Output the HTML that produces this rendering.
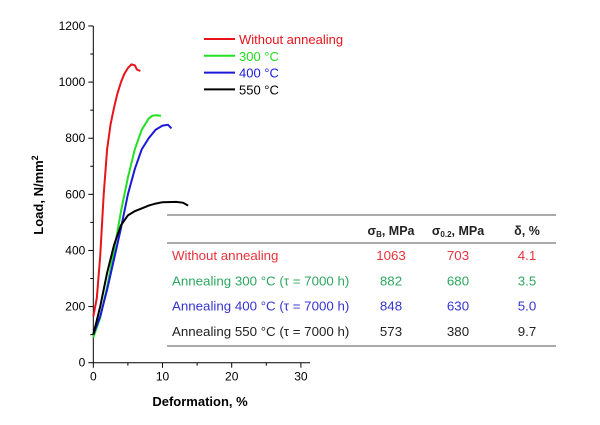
<!DOCTYPE html>
<html><head><meta charset="utf-8"><style>
body{margin:0;background:#fff;}
svg{display:block;font-family:"Liberation Sans",Arial,sans-serif;}
</style></head><body>
<svg width="600" height="425">
<g id="axes"></g><g id="curves"></g><g id="legend"></g><g id="table"></g>
</svg>
<script>
const xTicks=[0,10,20,30];
const yTicks=[0,200,400,600,800,1000,1200];
const seriesNames=["Without annealing","300 °C","400 °C","550 °C"];
const seriesColors=["#e8141c","#22e022","#1a1ad8","#000000"];
const redX=[0,0.5,1,1.5,2,2.5,3,3.5,4,4.5,5,5.5,6,6.3,6.8];
const redY=[165,230,380,600,760,850,910,960,1000,1030,1050,1063,1060,1045,1040];
const greenX=[0,1,2,3,4,5,6,7,8,8.5,9,9.8];
const greenY=[90,160,270,400,540,660,760,830,870,880,882,880];
const blueX=[0,1,2,3,4,5,6,7,8,9,10,10.8,11.3];
const blueY=[100,165,260,370,480,600,690,760,800,830,845,848,835];
const blackX=[0,1,2,3,4,5,6,7,8,9,10,12,13,13.7];
const blackY=[100,200,320,420,490,525,540,550,560,567,572,573,570,560];
const tableRows=["Without annealing","Annealing 300 °C (τ = 7000 h)","Annealing 400 °C (τ = 7000 h)","Annealing 550 °C (τ = 7000 h)"];
const sigmaB=["1063","882","848","573"];
const sigma02=["703","680","630","380"];
const delta=["4.1","3.5","5.0","9.7"];
const rowColors=["#e8323c","#2ea860","#3535d0","#222"];

const NS="http://www.w3.org/2000/svg";
const X=v=>93.3+v*6.92;
const Y=v=>362.7-v*0.2806;
function mk(tag,attrs,parent,text){const e=document.createElementNS(NS,tag);for(const k in attrs)e.setAttribute(k,attrs[k]);if(text!==undefined)e.textContent=text;parent.appendChild(e);return e;}
const axes=document.getElementById('axes');
let e;
e=mk('line',{x1:X(0),y1:Y(0),x2:310,y2:Y(0),stroke:'#000','stroke-width':1},axes);


e=mk('line',{x1:X(0),y1:Y(0),x2:X(0),y2:Y(1200),stroke:'#000','stroke-width':1},axes);


xTicks.forEach((t,i)=>{
  mk('line',{x1:X(t),y1:Y(0),x2:X(t),y2:Y(0)+5,stroke:'#000'},axes);
  if(i<xTicks.length-1)mk('line',{x1:X(t+5),y1:Y(0),x2:X(t+5),y2:Y(0)+3,stroke:'#000'},axes);
  e=mk('text',{x:X(t),y:Y(0)+18,'text-anchor':'middle','font-size':12},axes,t);
  
  
});
yTicks.forEach((t,i)=>{
  mk('line',{x1:X(0)-5,y1:Y(t),x2:X(0),y2:Y(t),stroke:'#000'},axes);
  if(i<yTicks.length-1)mk('line',{x1:X(0)-3,y1:Y(t+100),x2:X(0),y2:Y(t+100),stroke:'#000'},axes);
  e=mk('text',{x:X(0)-8,y:Y(t)+4,'text-anchor':'end','font-size':12},axes,t);
  
  
});
e=mk('text',{x:200,y:406,'text-anchor':'middle','font-size':13,'font-weight':'bold'},axes,'Deformation, %');


e=mk('text',{x:0,y:0,'text-anchor':'middle','font-size':13,'font-weight':'bold',transform:'translate(43,195) rotate(-90)'},axes);
e.innerHTML='Load, N/mm<tspan dy="-5" font-size="9">2</tspan>';



const curves=document.getElementById('curves');
[[redX,redY],[greenX,greenY],[blueX,blueY],[blackX,blackY]].forEach((s,i)=>{
  const d=s[0].map((x,j)=>(j?'L':'M')+X(x).toFixed(1)+','+Y(s[1][j]).toFixed(1)).join(' ');
  const p=mk('path',{d:d,fill:'none',stroke:seriesColors[i],'stroke-width':2},curves);
  
  
});
const legend=document.getElementById('legend');
seriesNames.forEach((n,i)=>{
  const y=39+i*16.8;
  mk('line',{x1:204,y1:y,x2:235,y2:y,stroke:seriesColors[i],'stroke-width':2},legend);
  const t=mk('text',{x:239,y:y+5,'font-size':13,fill:seriesColors[i]==='#22e022'?'#22dd22':seriesColors[i]},legend,n);
  
  
});
const table=document.getElementById('table');
[215,243,346].forEach(y=>mk('line',{x1:167,y1:y,x2:556,y2:y,stroke:'#777','stroke-width':1.2},table));
const cols=[391,458,527];
e=mk('text',{x:cols[0],y:235,'text-anchor':'middle','font-size':12.5,'font-weight':'bold',fill:'#222'},table);
e.innerHTML='σ<tspan font-size="8" dy="2">B</tspan><tspan dy="-2">, MPa</tspan>';


e=mk('text',{x:cols[1],y:235,'text-anchor':'middle','font-size':12.5,'font-weight':'bold',fill:'#222'},table);
e.innerHTML='σ<tspan font-size="8" dy="2">0.2</tspan><tspan dy="-2">, MPa</tspan>';


e=mk('text',{x:cols[2],y:235,'text-anchor':'middle','font-size':12.5,'font-weight':'bold',fill:'#222'},table,'δ, %');


tableRows.forEach((r,i)=>{
  const y=260+i*25.3;const c=rowColors[i];
  e=mk('text',{x:172,y:y,'font-size':13.3,fill:c},table,r);
  
  
  [sigmaB[i],sigma02[i],delta[i]].forEach((v,k)=>{
    const t=mk('text',{x:cols[k],y:y,'text-anchor':'middle','font-size':13.3,fill:c},table,v);
    
    
  });
});
</script>
</body></html>
